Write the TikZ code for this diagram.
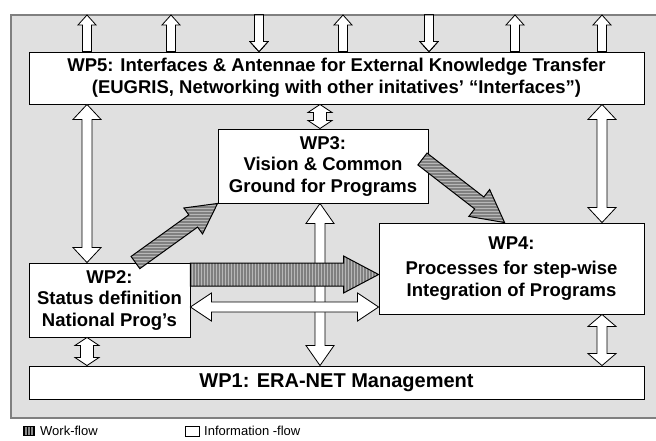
\documentclass[tikz,border=0pt]{standalone}
\usepackage{fontspec}
\setmainfont{Liberation Sans}
\usetikzlibrary{calc,patterns,positioning}
\tikzset{
	wpbox/.style={draw=black, line width=0.9pt, fill=white, align=center, inner sep=0pt, font=\bfseries\fontsize{18.5}{21.5}\selectfont},
	infoflow/.style={draw=black, line width=0.8pt, fill=white, line join=miter},
	workflow/.style={draw=black, line width=1pt, line join=miter, preaction={fill=black!50}, pattern=horizontal lines, pattern color=black!28},
	legendtext/.style={anchor=west, inner sep=0pt, font=\fontsize{13}{15}\selectfont},
}
% one-headed and two-headed block arrows: style, from, to, half shaft, half head, head length
\newcommand\oneway[6]{\path[#1] ($(#2)!#4!90:(#3)$) -- ($(#3)!#6!(#2)!#4!-90:(#2)$) -- ($(#3)!#6!(#2)!#5!-90:(#2)$) -- (#3) -- ($(#3)!#6!(#2)!#5!90:(#2)$) -- ($(#3)!#6!(#2)!#4!90:(#2)$) -- ($(#2)!#4!-90:(#3)$) -- cycle;}
\newcommand\twoway[6]{\path[#1] (#2) -- ($(#2)!#6!(#3)!#5!-90:(#3)$) -- ($(#2)!#6!(#3)!#4!-90:(#3)$) -- ($(#3)!#6!(#2)!#4!90:(#2)$) -- ($(#3)!#6!(#2)!#5!90:(#2)$) -- (#3) -- ($(#3)!#6!(#2)!#5!-90:(#2)$) -- ($(#3)!#6!(#2)!#4!-90:(#2)$) -- ($(#2)!#6!(#3)!#4!90:(#3)$) -- ($(#2)!#6!(#3)!#5!90:(#3)$) -- cycle;}
\begin{document}
\begin{tikzpicture}[x=1pt, y=-1pt]
	\useasboundingbox (0,0) rectangle (656,440);
	\draw[draw=black!50, line width=1.5pt, fill=black!12] (11,15) rectangle (664,418);
	\node[wpbox, minimum width=615pt, minimum height=52pt] (wp5) at (336.5,78) {WP5: Interfaces \& Antennae for External Knowledge Transfer\\(EUGRIS, Networking with other initatives’ “Interfaces”)};
	\node[wpbox, minimum width=210pt, minimum height=74pt] (wp3) at (323,166) {WP3:\\Vision \& Common\\Ground for Programs};
	\node[wpbox, minimum width=265pt, minimum height=91pt] (wp4) at (511.5,268.5) {WP4:\\[4pt]Processes for step-wise\\Integration of Programs};
	\node[wpbox, minimum width=161pt, minimum height=74pt] (wp2) at (109.5,300) {WP2:\\Status definition\\National Prog’s};
	\node[wpbox, minimum width=615pt, minimum height=33pt, font=\bfseries\fontsize{20}{24}\selectfont] (wp1) at (336.5,382.5) {WP1: ERA-NET Management};
	\foreach \x in {87,171,259,343,429,515,602}
		\coordinate (top\x) at (\x,15);
	\foreach \x in {87,171,343,515,602}
		\oneway{infoflow}{top\x |- wp5.north}{top\x}{4.5pt}{9pt}{10pt}
	\foreach \x in {259,429}
		\oneway{infoflow}{top\x}{top\x |- wp5.north}{4.5pt}{9pt}{10pt}
	\coordinate (left) at (87,0);
	\coordinate (right) at (602,0);
	\coordinate (mid) at (320,0);
	\coordinate (wf) at (0,274.5);
	\coordinate (inf) at (0,307);
	\twoway{infoflow}{left |- wp5.south}{left |- wp2.north}{5pt}{14pt}{15pt}
	\twoway{infoflow}{right |- wp5.south}{right |- wp4.north}{5pt}{14pt}{15pt}
	\twoway{infoflow}{mid |- wp5.south}{mid |- wp3.north}{6.5pt}{12pt}{8pt}
	\twoway{infoflow}{mid |- wp3.south}{mid |- wp1.north}{5pt}{14pt}{20pt}
	\twoway{infoflow}{left |- wp2.south}{left |- wp1.north}{6.5pt}{12pt}{8pt}
	\twoway{infoflow}{right |- wp4.south}{right |- wp1.north}{5pt}{14pt}{12pt}
	\twoway{infoflow}{wp2.east |- inf}{wp4.west |- inf}{5pt}{14pt}{21pt}
	\oneway{workflow, pattern=vertical lines}{wp2.east |- wf}{wp4.west |- wf}{11.5pt}{18.5pt}{35pt}
	\oneway{workflow}{$(wp2.north east)+(-55,0)$}{wp3.south west}{7.5pt}{16pt}{30pt}
	\oneway{workflow}{$(wp3.east)+(-6,-7)$}{$(wp4.north west)+(126,0)$}{7.5pt}{17pt}{32pt}
	\node[draw=black, line width=0.6pt, minimum width=11pt, minimum height=9pt, inner sep=0pt, preaction={fill=black!45}, pattern=vertical lines] (wficon) at (28.5,431) {};
	\node[legendtext] (wftext) at (40,431) {Work-flow};
	\node[draw=black, line width=0.6pt, fill=white, minimum width=14pt, minimum height=10pt, inner sep=0pt] (inficon) at (192.5,431) {};
	\node[legendtext] (inftext) at (204,431) {Information -flow};
\end{tikzpicture}
\end{document}
